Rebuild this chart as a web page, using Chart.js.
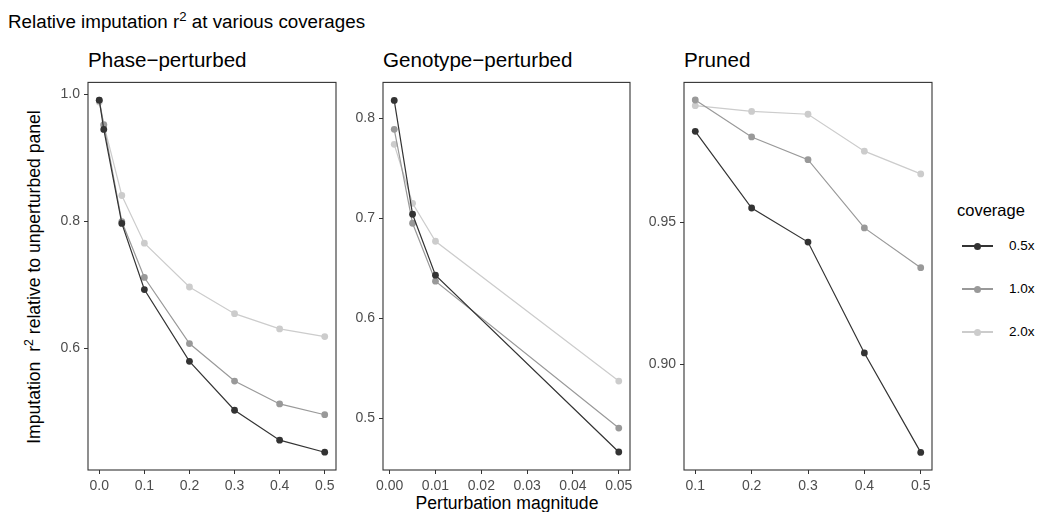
<!DOCTYPE html>
<html>
<head>
<meta charset="utf-8">
<script src="https://cdn.jsdelivr.net/npm/chart.js@4.4.0/dist/chart.umd.min.js"></script>
<style>
  body{margin:0;background:#fff;font-family:"Liberation Sans",Arial,sans-serif;}
  #wrap{position:relative;width:1037px;height:512px;overflow:hidden;background:#fff;}
  #wrap canvas{position:absolute;}
  .txt{position:absolute;white-space:nowrap;color:#000;line-height:1;}
  .txt sup{font-size:0.7em;vertical-align:0.55em;line-height:0;}
  .leg{position:absolute;left:962px;width:31px;height:0;}
  .leg i{position:absolute;left:0;right:0;top:-0.6px;height:1.2px;}
  .leg b{position:absolute;left:12px;top:-3.5px;width:7px;height:7px;border-radius:50%;}
</style>
</head>
<body>
<div id="wrap">
  <div class="txt" style="left:8px;top:13px;font-size:18.8px">Relative imputation r<sup>2</sup> at various coverages</div>

  <div class="txt" style="left:88px;top:50px;font-size:20.6px">Phase−perturbed</div>
  <div class="txt" style="left:383px;top:50px;font-size:20.6px">Genotype−perturbed</div>
  <div class="txt" style="left:684px;top:50px;font-size:20.6px">Pruned</div>

  <div class="txt" id="ylab" style="left:35px;top:277px;font-size:17.6px;transform:translate(-50%,-50%) rotate(-90deg);">Imputation&nbsp; r<sup>2</sup> relative to unperturbed panel</div>
  <div class="txt" style="left:507px;top:495px;font-size:17.6px;transform:translateX(-50%);">Perturbation magnitude</div>

  <canvas id="c1" width="318" height="425" style="left:30px;top:70px"></canvas>
  <canvas id="c2" width="302" height="425" style="left:340px;top:70px"></canvas>
  <canvas id="c3" width="309" height="425" style="left:635px;top:70px"></canvas>

  <div class="txt" style="left:957px;top:202px;font-size:16.5px">coverage</div>
  <div id="legend"></div>
</div>

<script>
// series
const coverages = ['0.5x', '1.0x', '2.0x'];
const seriesColors = ['#333333', '#999999', '#cccccc'];

// Phase-perturbed
const phaseX = [0, 0.01, 0.05, 0.1, 0.2, 0.3, 0.4, 0.5];
const phase05 = [0.991, 0.945, 0.797, 0.693, 0.580, 0.503, 0.456, 0.437];
const phase10 = [0.991, 0.952, 0.800, 0.712, 0.608, 0.549, 0.513, 0.496];
const phase20 = [0.988, 0.953, 0.841, 0.766, 0.697, 0.655, 0.631, 0.619];
const phaseXTicks = [0, 0.1, 0.2, 0.3, 0.4, 0.5];
const phaseXLabels = ['0.0', '0.1', '0.2', '0.3', '0.4', '0.5'];
const phaseYTicks = [0.6, 0.8, 1.0];
const phaseYLabels = ['0.6', '0.8', '1.0'];

// Genotype-perturbed
const genoX = [0.001, 0.005, 0.01, 0.05];
const geno05 = [0.818, 0.704, 0.643, 0.466];
const geno10 = [0.789, 0.695, 0.637, 0.490];
const geno20 = [0.774, 0.715, 0.677, 0.537];
const genoXTicks = [0, 0.01, 0.02, 0.03, 0.04, 0.05];
const genoXLabels = ['0.00', '0.01', '0.02', '0.03', '0.04', '0.05'];
const genoYTicks = [0.5, 0.6, 0.7, 0.8];
const genoYLabels = ['0.5', '0.6', '0.7', '0.8'];

// Pruned
const prunedX = [0.1, 0.2, 0.3, 0.4, 0.5];
const pruned05 = [0.982, 0.955, 0.943, 0.904, 0.869];
const pruned10 = [0.993, 0.980, 0.972, 0.948, 0.934];
const pruned20 = [0.991, 0.989, 0.988, 0.975, 0.967];
const prunedXTicks = [0.1, 0.2, 0.3, 0.4, 0.5];
const prunedXLabels = ['0.1', '0.2', '0.3', '0.4', '0.5'];
const prunedYTicks = [0.90, 0.95];
const prunedYLabels = ['0.90', '0.95'];

const boxPlugin = {
  id: 'box',
  afterDatasetsDraw(chart){
    const a = chart.chartArea, c = chart.ctx;
    c.save();
    c.strokeStyle = '#333333';
    c.lineWidth = 1.1;
    c.strokeRect(a.left, a.top, a.right - a.left, a.bottom - a.top);
    c.restore();
  }
};

function axis(min, max, ticks, labels, fit){
  return {
    type: 'linear', min, max,
    afterBuildTicks: s => { s.ticks = ticks.map(v => ({value: v})); },
    afterFit: fit,
    ticks: {
      autoSkip: false, maxRotation: 0, padding: 4,
      color: '#4d4d4d', font: {family: '"Liberation Sans", Arial, sans-serif', size: 14},
      callback: (v, i) => labels[i]
    },
    grid: {drawOnChartArea: false, drawTicks: true, tickLength: 4, color: '#333333', lineWidth: 1},
    border: {display: false}
  };
}

function panel(id, xs, ys, xr, yr, xt, xl, yt, yl, yWidth){
  const datasets = ys.map((vals, k) => ({
    label: coverages[k],
    data: xs.map((x, i) => ({x, y: vals[i]})),
    borderColor: seriesColors[k],
    backgroundColor: seriesColors[k],
    borderWidth: 1.2,
    pointRadius: 3.4,
    pointBorderWidth: 0,
    pointHoverRadius: 3.4,
    clip: false,
    tension: 0
  }));
  new Chart(document.getElementById(id), {
    type: 'line',
    data: {datasets},
    options: {
      responsive: false, animation: false, events: [],
      layout: {padding: {left: 0, top: 10, right: 12, bottom: 0}},
      plugins: {legend: {display: false}, tooltip: {enabled: false}},
      scales: {
        x: axis(xr[0], xr[1], xt, xl, s => { s.height = 25; }),
        y: axis(yr[0], yr[1], yt, yl, s => { s.width = yWidth; })
      }
    },
    plugins: [boxPlugin]
  });
}

panel('c1', phaseX, [phase05, phase10, phase20], [-0.025, 0.525], [0.409, 1.019],
  phaseXTicks, phaseXLabels, phaseYTicks, phaseYLabels, 58);
panel('c2', genoX, [geno05, geno10, geno20], [-0.00145, 0.05245], [0.448, 0.836],
  genoXTicks, genoXLabels, genoYTicks, genoYLabels, 43);
panel('c3', prunedX, [pruned05, pruned10, pruned20], [0.08, 0.52], [0.8628, 0.9992],
  prunedXTicks, prunedXLabels, prunedYTicks, prunedYLabels, 49);

// legend
const legY = [246, 289, 332];
const leg = document.getElementById('legend');
coverages.forEach((name, k) => {
  const d = document.createElement('div');
  d.className = 'leg';
  d.style.top = legY[k] + 'px';
  d.innerHTML = `<i style="background:${seriesColors[k]}"></i><b style="background:${seriesColors[k]}"></b>`;
  leg.appendChild(d);
  const t = document.createElement('div');
  t.className = 'txt';
  t.style.cssText = `left:1009px;top:${legY[k] - 7}px;font-size:13.5px`;
  t.textContent = name;
  leg.appendChild(t);
});
</script>
</body>
</html>
